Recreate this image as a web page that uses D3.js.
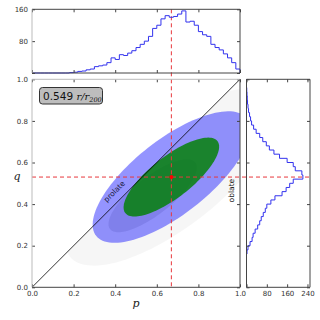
<!DOCTYPE html>
<html><head><meta charset="utf-8">
<script src="https://cdn.jsdelivr.net/npm/d3@7"></script>
<style>body{margin:0;background:#fff}svg{display:block}</style>
</head><body><svg id="c" width="320" height="320"></svg>
<script>
// ---------- data ----------
const binWidth = 0.02;
const pCounts = [0,0,0,0,0,0,0,0,0,1,2,4,5,8,10,16,18,20,26,38,34,46,44,50,56,64,72,80,92,112,120,136,144,140,142,148,156,128,130,120,104,96,92,72,64,58,48,38,26,10];
const qCounts = [0,0,0,0,0,0,0,0,2,6,14,22,26,34,44,52,58,66,74,80,96,112,140,156,170,184,222,218,192,184,160,130,108,90,78,64,52,38,28,20,16,12,8,6,4,3,2,1,0,0];
const axisTicks = [0, 0.2, 0.4, 0.6, 0.8, 1.0];
const topCountTicks = [0, 80, 160];
const rightCountTicks = [0, 80, 160, 240];
const peak = [0.67, 0.53];
const denseCenter = [0.58, 0.44];
const ellipseAngleDeg = [38, 38, 38, 38];
const ellipseAxes = [[0.62, 0.24], [0.459, 0.180], [0.281, 0.099], [0.26, 0.09]]; // samples region, 2-sigma, 1-sigma, dense core
const radiusLabel = ["0.549", "r/r", "200"];

// ---------- layout ----------
const svg = d3.select("#c");
const x = d3.scaleLinear([0, 1], [32, 240]);
const y = d3.scaleLinear([0, 1], [287.3, 79.3]);
const yTop = d3.scaleLinear([0, 160], [73, 9.3]);
const xRight = d3.scaleLinear([0, 250], [246.5, 310]);
const tickColor = "#444";
const fontTick = "DejaVu Sans, sans-serif";

const defs = svg.append("defs");
defs.append("clipPath").attr("id", "mainClip").append("rect")
  .attr("x", x(0)).attr("y", y(1)).attr("width", x(1) - x(0)).attr("height", y(0) - y(1));
defs.append("clipPath").attr("id", "lowerClip").append("path")
  .attr("d", `M${x(0)},${y(0)}L${x(1)},${y(0)}L${x(1)},${y(1)}Z`);

function ellipsePath(c, ax, angDeg) {
  const th = angDeg * Math.PI / 180, pts = [];
  for (let k = 0; k < 120; k++) {
    const t = k / 120 * 2 * Math.PI;
    const dx = ax[0] * Math.cos(t) * Math.cos(th) - ax[1] * Math.sin(t) * Math.sin(th);
    const dy = ax[0] * Math.cos(t) * Math.sin(th) + ax[1] * Math.sin(t) * Math.cos(th);
    pts.push([x(c[0] + dx), y(c[1] + dy)]);
  }
  return d3.line()(pts) + "Z";
}

// ---------- main panel ----------
const main = svg.append("g").attr("clip-path", "url(#mainClip)");
const lower = main.append("g").attr("clip-path", "url(#lowerClip)");
lower.append("path").attr("d", ellipsePath(peak, ellipseAxes[0], ellipseAngleDeg[0]))
  .attr("fill", "#000").attr("fill-opacity", 0.035);
lower.append("path").attr("d", ellipsePath(denseCenter, ellipseAxes[3], ellipseAngleDeg[3]))
  .attr("fill", "#000").attr("fill-opacity", 0.1);
main.append("path").attr("d", ellipsePath(peak, ellipseAxes[1], ellipseAngleDeg[1]))
  .attr("fill", "#0000ff").attr("fill-opacity", 0.42);
main.append("path").attr("d", ellipsePath(peak, ellipseAxes[2], ellipseAngleDeg[2]))
  .attr("fill", "green").attr("fill-opacity", 0.82);
main.append("line").attr("x1", x(0)).attr("y1", y(0)).attr("x2", x(1)).attr("y2", y(1))
  .attr("stroke", "#000").attr("stroke-width", 0.8);

// red dashed lines
svg.append("line").attr("x1", x(peak[0])).attr("x2", x(peak[0])).attr("y1", yTop(160)).attr("y2", y(0))
  .attr("stroke", "#e8383d").attr("stroke-width", 1).attr("stroke-dasharray", "4,3");
svg.append("line").attr("x1", x(0)).attr("x2", xRight(250)).attr("y1", y(peak[1])).attr("y2", y(peak[1]))
  .attr("stroke", "#e8383d").attr("stroke-width", 1).attr("stroke-dasharray", "4,3");
svg.append("circle").attr("cx", x(peak[0])).attr("cy", y(peak[1])).attr("r", 2).attr("fill", "red");

// prolate / oblate labels
svg.append("text").attr("transform", `translate(${x(0.405)},${y(0.452)}) rotate(-45)`)
  .attr("text-anchor", "middle").attr("font-family", fontTick).attr("font-size", 7.5)
  .attr("fill", "#1a1a40").text("prolate");
svg.append("text").attr("transform", `translate(${x(0.96)},${y(0.465)}) rotate(-90)`)
  .attr("text-anchor", "middle").attr("dy", "0.35em").attr("font-family", fontTick).attr("font-size", 7.5)
  .attr("fill", "#111").text("oblate");

// radius box
const box = svg.append("g");
box.append("rect").attr("x", 39.5).attr("y", 87.5).attr("width", 63).attr("height", 16.5).attr("rx", 3)
  .attr("fill", "#bdbdbd").attr("stroke", "#333").attr("stroke-width", 1);
const bt = box.append("text").attr("x", 43).attr("y", 99.7).attr("font-size", 10.5).attr("fill", "#111");
bt.append("tspan").attr("font-family", fontTick).text(radiusLabel[0] + " ");
bt.append("tspan").attr("font-family", "DejaVu Serif, serif").attr("font-style", "italic").attr("font-size", 10).text(radiusLabel[1]);
bt.append("tspan").attr("font-family", "DejaVu Serif, serif").attr("font-style", "italic").attr("font-size", 6.5).attr("dy", 2).text(radiusLabel[2]);

// ---------- histograms ----------
const topPts = [];
pCounts.forEach((c, i) => { topPts.push([i * binWidth, c], [(i + 1) * binWidth, c]); });
topPts.push([pCounts.length * binWidth, 0]);
svg.append("path").attr("d", d3.line().x(d => x(d[0])).y(d => yTop(d[1]))(topPts))
  .attr("fill", "none").attr("stroke", "#3333ee").attr("stroke-width", 1);

const rightPts = [];
qCounts.forEach((c, i) => { rightPts.push([c, i * binWidth], [c, (i + 1) * binWidth]); });
rightPts.push([0, qCounts.length * binWidth]);
svg.append("path").attr("d", d3.line().x(d => xRight(d[0])).y(d => y(d[1]))(rightPts))
  .attr("fill", "none").attr("stroke", "#3333ee").attr("stroke-width", 1);

// ---------- axes (inward ticks) ----------
function styleAxis(g) {
  g.select(".domain").remove();
  g.selectAll("line").attr("stroke", tickColor);
  g.selectAll("text").attr("font-family", fontTick).attr("font-size", 7).attr("fill", "#333");
}
const fmt1 = d3.format(".1f");
// main
svg.append("g").attr("transform", `translate(0,${y(0)})`)
  .call(d3.axisBottom(x).tickValues(axisTicks).tickFormat(fmt1).tickSize(-3).tickPadding(4)).call(styleAxis);
svg.append("g").attr("transform", `translate(0,${y(1)})`)
  .call(d3.axisTop(x).tickValues(axisTicks).tickFormat("").tickSize(-3)).call(styleAxis);
svg.append("g").attr("transform", `translate(${x(0)},0)`)
  .call(d3.axisLeft(y).tickValues(axisTicks).tickFormat(fmt1).tickSize(-3).tickPadding(4)).call(styleAxis);
svg.append("g").attr("transform", `translate(${x(1)},0)`)
  .call(d3.axisRight(y).tickValues(axisTicks).tickFormat("").tickSize(-3)).call(styleAxis);
// top hist
svg.append("g").attr("transform", `translate(0,${yTop(0)})`)
  .call(d3.axisBottom(x).tickValues(axisTicks).tickFormat("").tickSize(-3)).call(styleAxis);
svg.append("g").attr("transform", `translate(0,${yTop(160)})`)
  .call(d3.axisTop(x).tickValues(axisTicks).tickFormat("").tickSize(-3)).call(styleAxis);
svg.append("g").attr("transform", `translate(${x(0)},0)`)
  .call(d3.axisLeft(yTop).tickValues(topCountTicks).tickFormat(d => d === 0 ? "" : d).tickSize(-3).tickPadding(4)).call(styleAxis);
svg.append("g").attr("transform", `translate(${x(1)},0)`)
  .call(d3.axisRight(yTop).tickValues(topCountTicks).tickFormat("").tickSize(-3)).call(styleAxis);
// right hist
svg.append("g").attr("transform", `translate(0,${y(0)})`)
  .call(d3.axisBottom(xRight).tickValues(rightCountTicks).tickFormat(d => d === 0 ? "" : d).tickSize(-3).tickPadding(4)).call(styleAxis);
svg.append("g").attr("transform", `translate(0,${y(1)})`)
  .call(d3.axisTop(xRight).tickValues(rightCountTicks).tickFormat("").tickSize(-3)).call(styleAxis);
svg.append("g").attr("transform", `translate(${xRight(0)},0)`)
  .call(d3.axisLeft(y).tickValues(axisTicks).tickFormat("").tickSize(-3)).call(styleAxis);
svg.append("g").attr("transform", `translate(${xRight(250)},0)`)
  .call(d3.axisRight(y).tickValues(axisTicks).tickFormat("").tickSize(-3)).call(styleAxis);

// frames
function frame(x0, y0, x1, y1, light) {
  const seg = (a, b, c, d, col) => svg.append("line").attr("x1", a).attr("y1", b).attr("x2", c).attr("y2", d)
    .attr("stroke", col).attr("stroke-width", 1);
  seg(x0, y0, x1, y0, light.top ? "#bbb" : "#444");
  seg(x0, y1, x1, y1, "#444");
  seg(x0, y0, x0, y1, light.left ? "#bbb" : "#444");
  seg(x1, y0, x1, y1, "#444");
}
frame(x(0), y(1), x(1), y(0), {top: true, left: true});
frame(x(0), yTop(160), x(1), yTop(0), {left: true});
frame(xRight(0), y(1), xRight(250), y(0), {});

// axis labels
svg.append("text").attr("x", x(0.5)).attr("y", 307).attr("text-anchor", "middle")
  .attr("font-family", "DejaVu Serif, serif").attr("font-style", "italic").attr("font-size", 11).attr("fill", "#222").text("p");
svg.append("text").attr("x", 17).attr("y", y(peak[1]) + 3).attr("text-anchor", "middle")
  .attr("font-family", "DejaVu Serif, serif").attr("font-style", "italic").attr("font-size", 11).attr("fill", "#222").text("q");
</script></body></html>
